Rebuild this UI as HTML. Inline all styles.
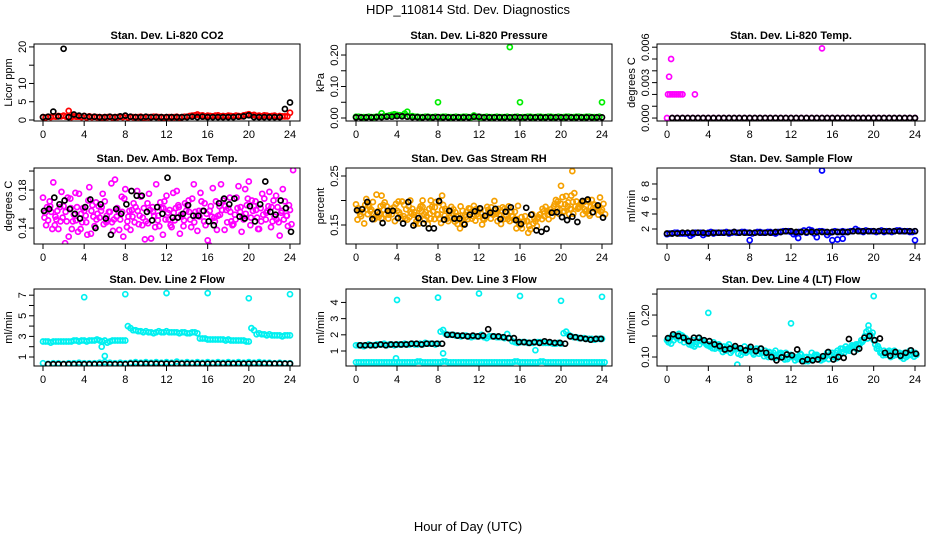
<!DOCTYPE html>
<html><head><meta charset="utf-8"><style>
html,body{margin:0;padding:0;background:#fff;}
svg{display:block;font-family:"Liberation Sans",Arial,sans-serif;}
</style></head><body>
<svg id="chart" width="936" height="540" viewBox="0 0 936 540" xmlns="http://www.w3.org/2000/svg">
<text x="468" y="14" text-anchor="middle" font-size="13">HDP_110814  Std. Dev. Diagnostics</text>
<text x="468" y="531" text-anchor="middle" font-size="13">Hour of Day (UTC)</text>
</svg>
<script>
// ---- data (values at half-hour grid unless explicit hours given) ----
const hourTicks = [0,4,8,12,16,20,24];
const co2Red = [0.8,0.9,1.0,1.1,1.2,2.5,1.0,0.9,1.1,1.0,0.9,0.8,0.8,0.9,0.8,0.9,1.1,0.9,0.8,0.9,0.8,0.8,0.9,0.8,0.8,0.8,0.9,0.8,0.9,1.2,1.5,1.3,1.2,1.0,1.3,1.1,1.2,1.0,1.1,1.3,1.6,1.4,1.2,1.3,1.0,1.2,1.1,1.0,2.0];
const co2Red2 = [0.7,0.8,0.9,1.0,0.9,0.8,0.9,0.8,0.7,0.8,0.8,0.7,0.8,0.7,0.8,0.8,0.7,0.8,0.8,0.7,0.8,0.9,0.8,0.7,0.8,0.8,0.7,0.9,1.1,1.3,1.2,1.0,1.1,1.2,1.0,1.0,1.1,1.2,1.0,1.4,1.3,1.1,1.0,1.2,1.1,0.9,1.0,1.0];
const co2Blk = [0.8,0.9,2.3,1.0,19.5,0.8,1.5,1.2,1.1,0.9,0.9,0.8,0.8,0.9,0.8,1.0,1.2,0.9,0.8,0.8,0.9,0.8,0.8,0.8,0.8,0.8,0.8,0.8,0.8,0.9,0.8,0.9,0.8,0.8,0.8,0.8,0.8,0.8,0.9,1.0,1.3,0.8,0.8,0.8,0.8,0.8,0.8,3.0,4.8];
const presGreen = [0.004,0.003,0.003,0.003,0.004,0.015,0.006,0.01,0.01,0.008,0.02,0.006,0.004,0.003,0.004,0.003,0.05,0.004,0.003,0.003,0.003,0.004,0.003,0.008,0.003,0.003,0.003,0.003,0.003,0.003,0.225,0.003,0.05,0.003,0.004,0.003,0.004,0.003,0.004,0.003,0.003,0.004,0.003,0.004,0.003,0.004,0.003,0.003,0.05];
const presGreen2 = [0.004,0.003,0.004,0.003,0.005,0.006,0.008,0.012,0.009,0.014,0.005,0.004,0.003,0.004,0.003,0.004,0.003,0.004,0.003,0.004,0.003,0.004,0.003,0.004,0.003,0.004,0.003,0.004,0.003,0.004,0.003,0.004,0.003,0.004,0.003,0.004,0.003,0.004,0.003,0.004,0.003,0.004,0.003,0.004,0.003,0.004,0.003,0.004];
const presBlk = [0.002,0.002,0.002,0.002,0.003,0.003,0.004,0.004,0.006,0.005,0.004,0.003,0.003,0.002,0.003,0.002,0.003,0.002,0.002,0.002,0.002,0.002,0.002,0.004,0.004,0.002,0.002,0.002,0.002,0.002,0.002,0.003,0.002,0.002,0.002,0.002,0.002,0.002,0.002,0.002,0.002,0.002,0.002,0.002,0.002,0.002,0.002,0.002,0.002];
const tempMag = [0,0,0,0,0,0,0,0,0,0,0,0,0,0,0,0,0,0,0,0,0,0,0,0,0,0,0,0,0,0,0,0,0,0,0,0,0,0,0,0,0,0,0,0,0,0,0,0,0];
const tempOutHours = [0.1,0.3,0.5,0.7,0.9,1.1,1.3,1.5,2.7,0.2,0.4,15];
const tempOutVals = [0.002,0.002,0.002,0.002,0.002,0.002,0.002,0.002,0.002,0.0035,0.005,0.0059];
const tempBlk = [0,0,0,0,0,0,0,0,0,0,0,0,0,0,0,0,0,0,0,0,0,0,0,0,0,0,0,0,0,0,0,0,0,0,0,0,0,0,0,0,0,0,0,0,0,0,0,0];
const ambA = [0.172,0.148,0.188,0.139,0.163,0.131,0.154,0.176,0.158,0.183,0.142,0.151,0.168,0.157,0.191,0.149,0.181,0.138,0.162,0.173,0.147,0.129,0.186,0.161,0.174,0.141,0.179,0.152,0.164,0.171,0.137,0.158,0.127,0.182,0.153,0.169,0.161,0.144,0.184,0.149,0.189,0.163,0.139,0.171,0.178,0.152,0.132,0.168,0.159];
const ambB = [0.151,0.168,0.143,0.162,0.124,0.171,0.177,0.139,0.153,0.134,0.167,0.158,0.146,0.187,0.152,0.173,0.141,0.159,0.179,0.143,0.166,0.162,0.148,0.133,0.156,0.177,0.164,0.142,0.169,0.186,0.158,0.147,0.122,0.151,0.163,0.138,0.172,0.154,0.157,0.181,0.143,0.168,0.161,0.149,0.141,0.174,0.156,0.153,0.144];
const ambC = [0.143,0.157,0.149,0.178,0.147,0.139,0.162,0.146,0.133,0.164,0.155,0.176,0.148,0.137,0.158,0.131,0.152,0.166,0.144,0.161,0.176,0.153,0.142,0.168,0.159,0.148,0.134,0.166,0.149,0.157,0.177,0.143,0.163,0.168,0.186,0.159,0.147,0.172,0.136,0.164,0.169,0.151,0.176,0.158,0.147,0.162,0.181,0.142,0.201];
const ambD = [0.162,0.139,0.158,0.151,0.172,0.147,0.136,0.161,0.169,0.152,0.163,0.144,0.157,0.149,0.138,0.171,0.158,0.146,0.153,0.128,0.159,0.141,0.167,0.149,0.143,0.161,0.154,0.158,0.141,0.153,0.168,0.155,0.152,0.138,0.159,0.146,0.143,0.161,0.152,0.171,0.158,0.139,0.154,0.163,0.169,0.146,0.149,0.164];
const ambE = [0.156,0.163,0.152,0.147,0.157,0.161,0.148,0.155,0.146,0.158,0.149,0.162,0.153,0.146,0.161,0.157,0.147,0.152,0.158,0.151,0.145,0.157,0.153,0.161,0.149,0.156,0.162,0.148,0.157,0.146,0.152,0.166,0.158,0.147,0.154,0.163,0.157,0.149,0.162,0.155,0.151,0.159,0.147,0.156,0.162,0.149,0.158,0.153];
const ambBlk = [0.158,0.160,0.172,0.165,0.169,0.160,0.155,0.150,0.162,0.170,0.140,0.165,0.150,0.133,0.160,0.155,0.165,0.179,0.174,0.174,0.157,0.148,0.162,0.155,0.193,0.151,0.151,0.155,0.164,0.153,0.153,0.158,0.147,0.143,0.166,0.171,0.165,0.171,0.152,0.150,0.163,0.147,0.165,0.189,0.157,0.154,0.169,0.161,0.136];
const rhA = [0.192,0.168,0.203,0.181,0.212,0.163,0.188,0.172,0.179,0.198,0.161,0.183,0.169,0.187,0.152,0.178,0.171,0.191,0.158,0.182,0.169,0.153,0.184,0.189,0.168,0.161,0.178,0.199,0.171,0.183,0.158,0.177,0.149,0.168,0.141,0.158,0.172,0.187,0.182,0.201,0.193,0.209,0.182,0.198,0.192,0.179,0.201,0.188,0.181];
const rhB = [0.161,0.183,0.172,0.197,0.178,0.191,0.163,0.179,0.198,0.168,0.188,0.171,0.153,0.172,0.183,0.162,0.196,0.169,0.178,0.157,0.143,0.171,0.183,0.159,0.182,0.168,0.163,0.181,0.152,0.169,0.177,0.143,0.166,0.158,0.171,0.148,0.162,0.179,0.168,0.183,0.207,0.188,0.197,0.183,0.172,0.198,0.184,0.171,0.193];
const rhC = [0.178,0.153,0.187,0.162,0.173,0.196,0.178,0.158,0.171,0.163,0.177,0.152,0.188,0.176,0.163,0.197,0.154,0.179,0.187,0.168,0.159,0.177,0.163,0.172,0.151,0.187,0.173,0.158,0.186,0.162,0.168,0.189,0.157,0.134,0.153,0.166,0.178,0.162,0.188,0.173,0.178,0.172,0.215,0.187,0.182,0.169,0.191,0.206,0.172];
const rhD = [0.172,0.191,0.178,0.168,0.188,0.172,0.183,0.193,0.163,0.182,0.173,0.158,0.178,0.168,0.187,0.172,0.181,0.163,0.173,0.152,0.179,0.162,0.168,0.178,0.163,0.181,0.171,0.183,0.162,0.188,0.161,0.153,0.158,0.148,0.163,0.171,0.168,0.177,0.193,0.181,0.192,0.183,0.188,0.193,0.178,0.187,0.182,0.177];
const rhE = [0.184,0.176,0.191,0.173,0.166,0.181,0.171,0.186,0.176,0.191,0.166,0.176,0.183,0.161,0.173,0.186,0.162,0.183,0.166,0.176,0.188,0.166,0.176,0.182,0.173,0.166,0.186,0.173,0.178,0.176,0.168,0.162,0.143,0.158,0.172,0.163,0.183,0.171,0.176,0.198,0.176,0.196,0.173,0.186,0.196,0.173,0.192,0.183];
const rhOutHours = [2.5,5.3,6.5,7.3,8.4,20,21,21.1,22.5];
const rhOutVals = [0.21,0.20,0.20,0.20,0.21,0.23,0.21,0.26,0.20];
const rhBlk = [0.18,0.182,0.197,0.162,0.176,0.154,0.179,0.179,0.164,0.153,0.197,0.149,0.164,0.153,0.143,0.143,0.199,0.161,0.179,0.163,0.163,0.151,0.171,0.178,0.184,0.169,0.175,0.183,0.162,0.177,0.186,0.16,0.152,0.185,0.171,0.139,0.136,0.142,0.175,0.176,0.166,0.160,0.167,0.156,0.199,0.202,0.176,0.190,0.165];
const sfBlue = [1.3,1.4,1.5,1.4,1.4,1.3,1.5,1.2,1.5,1.4,1.5,1.5,1.4,1.6,1.5,1.6,1.5,1.5,1.6,1.5,1.6,1.4,1.6,1.7,1.6,1.4,1.6,1.5,1.8,1.6,1.7,1.2,1.6,1.6,1.7,1.6,1.7,1.8,1.6,1.7,1.7,1.7,1.6,1.7,1.7,1.8,1.7,1.6,1.7];
const sfBlue2 = [1.4,1.5,1.4,1.4,1.1,1.5,1.5,1.4,1.6,1.5,1.5,1.6,1.5,1.5,1.6,1.5,1.4,1.6,1.5,1.6,1.5,1.6,1.7,1.7,1.3,1.6,1.8,1.9,1.4,1.7,1.6,1.5,1.7,1.6,1.6,1.7,2.0,1.7,1.8,1.7,1.6,1.8,1.7,1.6,1.8,1.7,1.7,1.6];
const sfOutHours = [8,12.7,14.5,15,16,16.5,17,24];
const sfOutVals = [0.5,0.8,0.9,9.8,0.5,0.6,0.7,0.5];
const sfBlk = [1.4,1.4,1.4,1.5,1.5,1.5,1.5,1.5,1.4,1.5,1.5,1.5,1.5,1.6,1.5,1.5,1.5,1.5,1.5,1.5,1.5,1.6,1.6,1.7,1.7,1.6,1.6,1.6,1.6,1.6,1.6,1.6,1.6,1.6,1.6,1.6,1.7,1.7,1.7,1.7,1.7,1.7,1.7,1.7,1.7,1.7,1.7,1.7,1.7];
const l2Cyan = [2.5,2.5,2.5,2.5,2.5,2.5,2.6,2.5,2.6,2.6,2.6,2.6,2.6,2.5,2.6,2.6,2.6,3.8,3.6,3.5,3.5,3.4,3.4,3.4,3.5,3.4,3.4,3.4,3.3,3.4,3.3,2.8,2.7,2.7,2.7,2.7,2.7,2.6,2.6,2.6,2.5,3.6,3.3,3.2,3.2,3.1,3.1,3.1,3.1];
const l2Cyan2 = [2.5,2.4,2.5,2.5,2.5,2.5,2.6,2.6,2.5,2.6,2.7,2.5,2.4,2.6,2.6,2.6,4.0,3.6,3.5,3.4,3.4,3.3,3.5,3.4,3.4,3.4,3.3,3.4,3.3,3.4,2.8,2.8,2.7,2.7,2.7,2.6,2.6,2.6,2.6,2.5,3.8,3.2,3.2,3.1,3.1,3.1,3.0,3.1];
const l2Low = [0.4,0.35,0.4,0.4,0.35,0.4,0.4,0.45,0.4,0.4,0.4,0.45,0.5,0.45,0.4,0.45,0.4,0.45,0.5,0.45,0.5,0.45,0.5,0.45,0.5,0.45,0.55,0.45,0.5,0.45,0.5,0.45,0.5,0.45,0.5,0.45,0.5,0.45,0.5,0.45,0.5,0.45,0.5,0.45,0.45,0.4,0.45,0.4,0.4];
const l2OutHours = [4,5.7,6,8,12,16,20,24];
const l2OutVals = [6.8,2.0,1.1,7.1,7.2,7.2,6.7,7.1];
const l2Blk = [0.3,0.3,0.3,0.3,0.3,0.3,0.3,0.3,0.3,0.3,0.3,0.3,0.3,0.3,0.3,0.3,0.35,0.35,0.35,0.35,0.35,0.35,0.35,0.35,0.35,0.35,0.35,0.35,0.35,0.35,0.35,0.35,0.35,0.35,0.35,0.35,0.35,0.35,0.35,0.35,0.35,0.35,0.35,0.35,0.35,0.35,0.35,0.35,0.35];
const l3Mid = [1.35,1.35,1.35,1.35,1.4,1.4,1.35,1.4,1.4,1.4,1.4,1.45,1.4,1.4,1.45,1.45,1.45,2.3,2.0,2.0,1.95,1.95,1.9,1.9,1.9,1.85,1.9,1.9,1.85,1.8,1.8,1.55,1.55,1.55,1.5,1.55,1.55,1.5,1.5,1.45,1.45,2.2,1.9,1.85,1.8,1.75,1.75,1.75,1.75];
const l3Mid2 = [1.35,1.3,1.4,1.35,1.4,1.45,1.4,1.35,1.4,1.45,1.4,1.4,1.45,1.5,1.45,1.4,2.2,2.05,2.0,1.95,1.9,1.95,1.85,1.9,2.0,1.8,1.9,1.85,1.85,2.05,1.6,1.5,1.55,1.5,1.5,1.55,1.5,1.5,1.45,1.5,2.1,2.0,1.85,1.8,1.8,1.75,1.7,1.75];
const l3Low = [0.3,0.3,0.3,0.3,0.3,0.3,0.3,0.3,0.3,0.3,0.3,0.3,0.35,0.3,0.3,0.3,0.3,0.35,0.3,0.3,0.3,0.3,0.3,0.3,0.3,0.3,0.3,0.3,0.3,0.3,0.3,0.35,0.3,0.3,0.3,0.3,0.35,0.3,0.3,0.3,0.3,0.3,0.3,0.3,0.3,0.3,0.3,0.3,0.3];
const l3OutHours = [4,8,8.5,12,16,17.5,20,24,3.9];
const l3OutVals = [4.15,4.3,0.85,4.55,4.4,1.05,4.1,4.35,0.55];
const l3Blk = [1.35,1.35,1.35,1.35,1.4,1.35,1.4,1.4,1.4,1.4,1.45,1.45,1.4,1.45,1.45,1.45,1.45,2.0,2.0,1.95,1.95,1.9,1.95,1.9,1.95,2.35,1.9,1.9,1.85,1.8,1.8,1.55,1.55,1.5,1.55,1.5,1.6,1.55,1.5,1.5,1.45,1.9,1.85,1.8,1.75,1.7,1.75,1.75,1.75];
const l4A = [0.14,0.15,0.145,0.15,0.14,0.14,0.145,0.14,0.13,0.135,0.13,0.125,0.13,0.12,0.12,0.125,0.12,0.115,0.12,0.115,0.11,0.115,0.11,0.11,0.105,0.1,0.105,0.1,0.11,0.105,0.1,0.11,0.11,0.115,0.12,0.12,0.125,0.13,0.14,0.165,0.14,0.12,0.115,0.115,0.115,0.11,0.11,0.115,0.11];
const l4B = [0.135,0.14,0.155,0.135,0.13,0.125,0.13,0.135,0.125,0.12,0.12,0.115,0.11,0.12,0.105,0.11,0.115,0.12,0.11,0.105,0.105,0.1,0.1,0.095,0.1,0.095,0.095,0.09,0.095,0.1,0.095,0.095,0.1,0.105,0.11,0.115,0.125,0.13,0.15,0.155,0.13,0.11,0.105,0.1,0.105,0.1,0.1,0.105,0.105];
const l4C = [0.145,0.15,0.14,0.145,0.135,0.13,0.14,0.13,0.13,0.125,0.12,0.125,0.115,0.12,0.115,0.12,0.11,0.115,0.11,0.1,0.11,0.105,0.1,0.1,0.1,0.1,0.09,0.1,0.105,0.1,0.1,0.105,0.11,0.12,0.125,0.12,0.13,0.14,0.16,0.15,0.12,0.11,0.11,0.11,0.11,0.105,0.11,0.11];
const l4D = [0.132,0.146,0.152,0.141,0.128,0.136,0.137,0.128,0.121,0.128,0.112,0.119,0.122,0.108,0.111,0.114,0.106,0.108,0.102,0.112,0.098,0.108,0.094,0.104,0.092,0.108,0.099,0.094,0.101,0.092,0.104,0.102,0.097,0.112,0.116,0.128,0.118,0.136,0.144,0.158,0.126,0.104,0.112,0.103,0.109,0.096,0.104,0.101];
const l4OutHours = [4,12,19.5,20,6.8];
const l4OutVals = [0.205,0.18,0.175,0.245,0.082];
const l4Blk = [0.145,0.154,0.150,0.146,0.138,0.146,0.146,0.140,0.138,0.130,0.126,0.118,0.120,0.126,0.121,0.116,0.124,0.114,0.120,0.110,0.100,0.092,0.099,0.106,0.104,0.118,0.090,0.094,0.092,0.094,0.102,0.112,0.094,0.100,0.098,0.143,0.112,0.120,0.146,0.150,0.140,0.144,0.110,0.103,0.112,0.103,0.110,0.116,0.108];

// ---- layout ----
const cols = [{bl:34,br:300,x0:43,x24:290,lab:22,ttl:8},{bl:346,br:612,x0:356,x24:602,lab:334,ttl:320},{bl:657,br:925,x0:667,x24:915,lab:645,ttl:631}];
const rows = [{t:44,b:121,title:39},{t:168,b:244,title:162},{t:289,b:366,title:283}];
const RED='#ff0000',GRN='#00ee00',MAG='#ff00ff',ORG='#f5a000',BLU='#0000ff',CYN='#00f0f0',BLK='#000000';
function g(vals,off,color){return {vals:vals,off:off,color:color};}
function ex(hours,vals,color){return {hours:hours,vals:vals,color:color};}
const panels = [
 {id:'co2',c:0,r:0,title:'Stan. Dev. Li-820 CO2',yl:'Licor ppm',lo:-0.27,hi:20.8,ticks:[0,5,10,15,20],labs:['0','5','10','','20'],series:[g(co2Red,0,RED),g(co2Red2,0.25,RED),g(co2Blk,0,BLK)]},
 {id:'pressure',c:1,r:0,title:'Stan. Dev. Li-820 Pressure',yl:'kPa',lo:-0.0095,hi:0.235,ticks:[0,0.05,0.1,0.15,0.2],labs:['0.00','','0.10','','0.20'],series:[g(presGreen,0,GRN),g(presGreen2,0.25,GRN),g(presBlk,0,BLK)]},
 {id:'temp',c:2,r:0,title:'Stan. Dev. Li-820 Temp.',yl:'degrees C',lo:-0.00025,hi:0.00627,ticks:[0,0.001,0.002,0.003,0.004,0.005,0.006],labs:['0.000','','','0.003','','','0.006'],series:[g(tempMag,0,MAG),ex(tempOutHours,tempOutVals,MAG),g(tempBlk,0.5,BLK)]},
 {id:'amb-temp',c:0,r:1,title:'Stan. Dev. Amb. Box Temp.',yl:'degrees C',lo:0.1232,hi:0.2032,ticks:[0.14,0.16,0.18,0.20],labs:['0.14','','0.18',''],series:[g(ambA,0,MAG),g(ambB,0.15,MAG),g(ambC,0.3,MAG),g(ambD,0.4,MAG),g(ambE,0.2,MAG),g(ambBlk,0.1,BLK)]},
 {id:'rh',c:1,r:1,title:'Stan. Dev. Gas Stream RH',yl:'percent',lo:0.1112,hi:0.2663,ticks:[0.15,0.20,0.25],labs:['0.15','','0.25'],series:[g(rhA,0,ORG),g(rhB,0.15,ORG),g(rhC,0.3,ORG),g(rhD,0.4,ORG),g(rhE,0.2,ORG),ex(rhOutHours,rhOutVals,ORG),g(rhBlk,0.1,BLK)]},
 {id:'sample-flow',c:2,r:1,title:'Stan. Dev. Sample Flow',yl:'ml/min',lo:0,hi:10.13,ticks:[2,4,6,8],labs:['2','4','6','8'],series:[g(sfBlue,0,BLU),g(sfBlue2,0.25,BLU),ex(sfOutHours,sfOutVals,BLU),g(sfBlk,0,BLK)]},
 {id:'line2',c:0,r:2,title:'Stan. Dev. Line 2 Flow',yl:'ml/min',lo:0.126,hi:7.6,ticks:[1,2,3,4,5,6,7],labs:['1','','3','','5','','7'],series:[g(l2Cyan,0,CYN),g(l2Cyan2,0.25,CYN),g(l2Low,0,CYN),ex(l2OutHours,l2OutVals,CYN),g(l2Blk,0.5,BLK)]},
 {id:'line3',c:1,r:2,title:'Stan. Dev. Line 3 Flow',yl:'ml/min',lo:0.074,hi:4.83,ticks:[1,2,3,4],labs:['1','2','3','4'],series:[g(l3Mid,0,CYN),g(l3Mid2,0.25,CYN),g(l3Low,0,CYN),g(l3Low,0.25,CYN),ex(l3OutHours,l3OutVals,CYN),g(l3Blk,0.4,BLK)]},
 {id:'line4',c:2,r:2,title:'Stan. Dev. Line 4 (LT) Flow',yl:'ml/min',lo:0.0786,hi:0.262,ticks:[0.10,0.15,0.20,0.25],labs:['0.10','','0.20',''],series:[g(l4A,0,CYN),g(l4B,0.15,CYN),g(l4C,0.3,CYN),g(l4D,0.4,CYN),ex(l4OutHours,l4OutVals,CYN),g(l4Blk,0.1,BLK)]}
];

const NS='http://www.w3.org/2000/svg';
const svg=document.getElementById('chart');
function mk(tag,attrs,parent){const e=document.createElementNS(NS,tag);for(const k in attrs)e.setAttribute(k,attrs[k]);(parent||svg).appendChild(e);return e;}

panels.forEach(p=>{
  const C=cols[p.c],R=rows[p.r];
  const gp=mk('g',{});
  
  
  const xs=h=>C.x0+(h/24)*(C.x24-C.x0);
  const ys=v=>R.b-(v-p.lo)/(p.hi-p.lo)*(R.b-R.t);
  const cp=mk('clipPath',{id:'clip-'+p.id},gp);
  mk('rect',{x:C.bl,y:R.t,width:C.br-C.bl,height:R.b-R.t},cp);
  const pts=mk('g',{'clip-path':'url(#clip-'+p.id+')'},gp);
  
  
  p.series.forEach(s=>{
    s.vals.forEach((v,i)=>{
      const h=s.hours?s.hours[i]:i*0.5+s.off;
      if(h>24.3)return;
      const c=mk('circle',{cx:xs(h).toFixed(1),cy:ys(v).toFixed(1),r:2.5,fill:'none',stroke:s.color,'stroke-width':1.7},pts);
      
      
    });
  });
  const box=mk('rect',{x:C.bl,y:R.t,width:C.br-C.bl,height:R.b-R.t,fill:'none',stroke:'#000','stroke-width':1},gp);
  
  
  const t=mk('text',{x:(C.bl+C.br)/2,y:R.title,'text-anchor':'middle','font-size':11,'font-weight':'bold'},gp);
  t.textContent=p.title;
  
  
  const yt=mk('text',{x:C.ttl+4,y:(R.t+R.b)/2,'text-anchor':'middle','font-size':11,transform:'rotate(-90 '+(C.ttl+4)+' '+((R.t+R.b)/2)+')'},gp);
  yt.textContent=p.yl;
  
  
  p.ticks.forEach((tv,i)=>{
    const y=ys(tv);
    const l=mk('line',{x1:C.bl-5,x2:C.bl,y1:y,y2:y,stroke:'#000'},gp);
    
    
    if(p.labs[i]){
      const lx=C.lab+4;
      const tx=mk('text',{x:lx,y:y,'text-anchor':'middle','font-size':11,transform:'rotate(-90 '+lx+' '+y+')'},gp);
      tx.textContent=p.labs[i];
      
      
    }
  });
  const ya=mk('line',{x1:C.bl,x2:C.bl,y1:ys(p.ticks[0]),y2:ys(p.ticks[p.ticks.length-1]),stroke:'#000'},gp);
  
  
  hourTicks.forEach(h=>{
    const x=xs(h);
    const l=mk('line',{x1:x,x2:x,y1:R.b,y2:R.b+5,stroke:'#000'},gp);
    
    
    const tx=mk('text',{x:x,y:R.b+17,'text-anchor':'middle','font-size':11},gp);
    tx.textContent=String(h);
    
    
  });
});
</script>
</body></html>
